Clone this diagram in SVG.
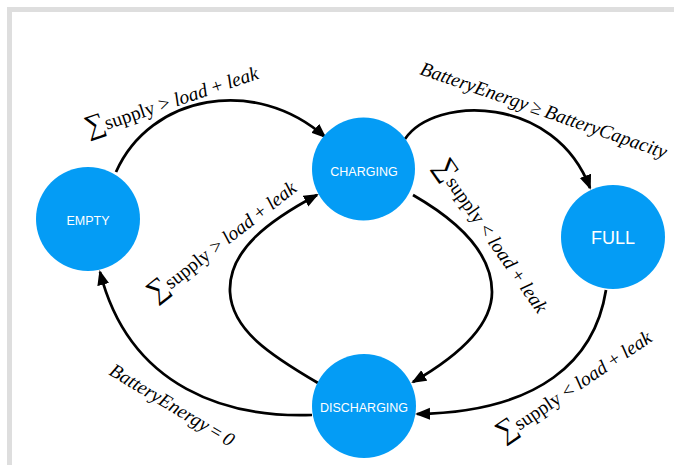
<svg xmlns="http://www.w3.org/2000/svg" width="674" height="465" viewBox="0 0 674 465">
<style>
.node{fill:#049CF5}
.nt{fill:#fff;font-family:"Liberation Sans",Arial,sans-serif;font-size:12.5px;text-anchor:middle}
.edge{fill:none;stroke:#000;stroke-width:2.75}
.lbl{font-family:"Liberation Serif","Times New Roman",serif;font-size:19.5px;fill:#000}
.it{font-style:italic}
.sum{font-size:28px}
</style>
<defs>
<marker id="arr" markerUnits="userSpaceOnUse" markerWidth="17" markerHeight="13" refX="13" refY="6" orient="auto">
<path d="M0,0 L15,6 L0,12 z" fill="#000"/>
</marker>
</defs>
<rect x="0" y="0" width="674" height="465" fill="#fff"/>
<rect x="7" y="7" width="667" height="458" fill="#DEDEDE"/>
<rect x="12" y="12" width="662" height="453" fill="#fff"/>
<g id="connectors">
<path class="edge" marker-end="url(#arr)" d="M116,172 C150,95 255,75 325,137"/>
<path class="edge" marker-end="url(#arr)" d="M405,139 C435,95 555,95 590,188"/>
<path class="edge" marker-end="url(#arr)" d="M413,195 C460,222 492,255 492,292 C492,325 460,355 413,382"/>
<path class="edge" marker-end="url(#arr)" d="M318,383 C270,355 232,330 230,292 C228,250 270,220 317,195"/>
<path class="edge" marker-end="url(#arr)" d="M606,290 C595,360 540,412 417,414"/>
<path class="edge" marker-end="url(#arr)" d="M312,415 C230,418 130,390 100,272"/>
</g>
<g id="labels">
<text class="lbl" transform="translate(88,136) rotate(-18.5)"><tspan class="sum">∑</tspan><tspan>supply</tspan><tspan dx="5">&gt;</tspan><tspan class="it" dx="5">load</tspan><tspan dx="5">+</tspan><tspan class="it" dx="5">leak</tspan></text>
<text class="lbl it" transform="translate(419,74) rotate(19)">BatteryEnergy<tspan dx="4" font-style="normal">≥</tspan><tspan dx="4">BatteryCapacity</tspan></text>
<text class="lbl" transform="translate(434,166) rotate(55)"><tspan class="sum">∑</tspan><tspan>supply</tspan><tspan dx="5">&lt;</tspan><tspan class="it" dx="5">load</tspan><tspan dx="5">+</tspan><tspan class="it" dx="5">leak</tspan></text>
<text class="lbl" transform="translate(155,302) rotate(-38)"><tspan class="sum">∑</tspan><tspan>supply</tspan><tspan dx="5">&gt;</tspan><tspan class="it" dx="5">load</tspan><tspan dx="5">+</tspan><tspan class="it" dx="5">leak</tspan></text>
<text class="lbl" transform="translate(503,442) rotate(-34)"><tspan class="sum">∑</tspan><tspan>supply</tspan><tspan dx="5">&lt;</tspan><tspan class="it" dx="5">load</tspan><tspan dx="5">+</tspan><tspan class="it" dx="5">leak</tspan></text>
<text class="lbl it" transform="translate(108,374) rotate(31)">BatteryEnergy<tspan dx="4" font-style="normal">=</tspan><tspan dx="4">0</tspan></text>
</g>
<g id="empty"><circle class="node" cx="88" cy="219" r="52"/><text class="nt" x="88" y="224.5">EMPTY</text></g>
<g id="charging"><circle class="node" cx="363.5" cy="169" r="51.5"/><text class="nt" x="364" y="176">CHARGING</text></g>
<g id="full"><circle class="node" cx="613" cy="237" r="52"/><text class="nt" x="613" y="244" style="font-size:18px">FULL</text></g>
<g id="discharging"><circle class="node" cx="364" cy="406" r="52"/><text class="nt" x="364" y="411.5">DISCHARGING</text></g>
</svg>
